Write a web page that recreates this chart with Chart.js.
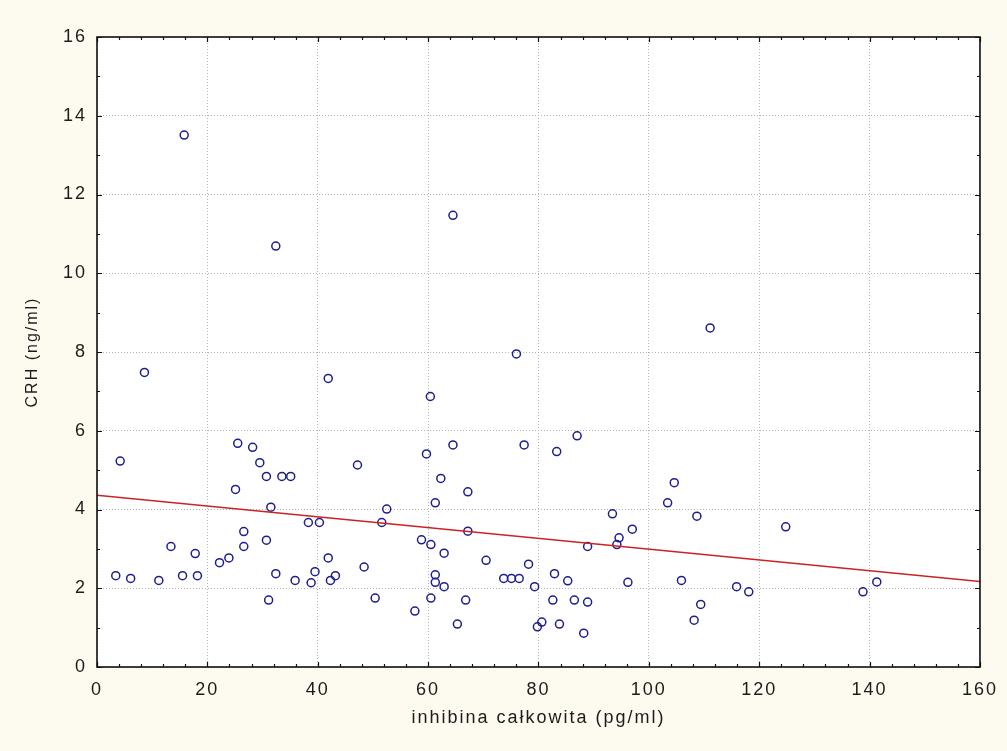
<!DOCTYPE html>
<html>
<head>
<meta charset="utf-8">
<script src="https://cdn.jsdelivr.net/npm/chart.js@4.4.1/dist/chart.umd.min.js"></script>
<style>
  html, body { margin: 0; padding: 0; background: #fdfaef; }
  canvas { display: block; }
</style>
</head>
<body>
<canvas id="chart" width="1007" height="751"></canvas>
<script>
// Inhibina całkowita (pg/ml) per subject
const inhibin = [
  15.8, 32.4, 8.6, 4.2, 3.4, 6.1, 11.2, 13.4, 15.5, 17.8,
  18.2, 22.2, 23.9, 25.1, 25.5, 28.2, 29.5, 30.7, 33.5, 35.1,
  31.5, 26.6, 26.6, 30.7, 31.1, 32.4, 35.9, 38.3, 40.3, 38.8,
  39.5, 41.9, 42.3, 43.2, 41.9, 47.2, 48.4, 50.4, 51.6, 52.5,
  59.7, 64.5, 62.3, 61.3, 67.2, 67.2, 58.8, 60.5, 62.9, 61.3,
  61.3, 62.9, 60.5, 57.6, 66.8, 65.3, 70.5, 73.7, 75.1, 76.5,
  78.2, 79.3, 79.8, 80.6, 77.4, 83.3, 87.0, 82.9, 85.3, 82.6,
  83.8, 86.5, 88.9, 88.2, 88.9, 93.4, 94.6, 94.2, 97.0, 96.2,
  104.6, 103.4, 108.7, 105.9, 109.4, 108.2, 124.8, 115.9, 118.1, 138.8,
  141.3, 64.5, 76.0, 60.4, 111.1
];
// CRH (ng/ml) for the same subjects
const crh = [
  13.51, 10.69, 7.48, 5.23, 2.32, 2.25, 2.20, 3.06, 2.32, 2.88,
  2.32, 2.65, 2.77, 4.51, 5.68, 5.58, 5.19, 4.84, 4.84, 4.84,
  4.06, 3.44, 3.06, 3.22, 1.70, 2.37, 2.20, 3.67, 3.67, 2.14,
  2.42, 2.77, 2.20, 2.32, 7.33, 5.13, 2.54, 1.75, 3.67, 4.01,
  5.41, 5.64, 4.79, 4.17, 4.45, 3.45, 3.23, 3.11, 2.89, 2.34,
  2.15, 2.04, 1.75, 1.42, 1.70, 1.09, 2.71, 2.25, 2.25, 2.25,
  2.61, 2.04, 1.02, 1.14, 5.64, 5.47, 5.87, 2.37, 2.19, 1.70,
  1.09, 1.70, 1.65, 0.86, 3.06, 3.89, 3.28, 3.11, 3.50, 2.15,
  4.68, 4.17, 3.83, 2.20, 1.59, 1.19, 3.56, 2.04, 1.91, 1.91,
  2.16, 11.47, 7.95, 6.87, 8.61
];
// Linear fit line end points
const fitX = [0, 160];
const fitY = [4.36, 2.17];

// Axis tick values
const xTickValues = [0, 20, 40, 60, 80, 100, 120, 140, 160];
const yTickValues = [0, 2, 4, 6, 8, 10, 12, 14, 16];

const PAGE_BG = '#fdfaef';
const TEXT = '#1c1c1c';
const FONT = "'Liberation Sans', Arial, sans-serif";

// Background, frame and inward minor/major tick marks
const framePlugin = {
  id: 'frame',
  beforeDraw(chart) {
    const { ctx, chartArea: a, width, height } = chart;
    ctx.save();
    ctx.fillStyle = PAGE_BG;
    ctx.fillRect(0, 0, width, height);
    ctx.fillStyle = '#ffffff';
    ctx.fillRect(a.left, a.top, a.right - a.left, a.bottom - a.top);
    ctx.restore();
    ctx.letterSpacing = '2px';
  },
  afterDraw(chart) {
    const { ctx, chartArea: a, scales: { x, y } } = chart;
    ctx.save();
    ctx.strokeStyle = '#111111';
    ctx.lineWidth = 1.2;
    ctx.beginPath();
    for (let v = 0; v <= 160; v += 4) {
      const px = Math.round(x.getPixelForValue(v)) + 0.5;
      const len = v % 20 === 0 ? 5 : 3;
      ctx.moveTo(px, a.bottom); ctx.lineTo(px, a.bottom - len);
      ctx.moveTo(px, a.top); ctx.lineTo(px, a.top + len);
    }
    for (let v = 0; v <= 16; v += 1) {
      const py = Math.round(y.getPixelForValue(v)) + 0.5;
      const len = v % 2 === 0 ? 5 : 3;
      ctx.moveTo(a.left, py); ctx.lineTo(a.left + len, py);
      ctx.moveTo(a.right, py); ctx.lineTo(a.right - len, py);
    }
    ctx.stroke();
    ctx.lineWidth = 1.6;
    ctx.strokeRect(a.left, a.top, a.right - a.left, a.bottom - a.top);
    ctx.restore();
  }
};

const points = inhibin.map((v, i) => ({ x: v, y: crh[i] }));
const fitLine = fitX.map((v, i) => ({ x: v, y: fitY[i] }));

new Chart(document.getElementById('chart'), {
  type: 'scatter',
  data: {
    datasets: [
      {
        type: 'line',
        data: fitLine,
        borderColor: '#cc2222',
        borderWidth: 1.5,
        pointRadius: 0,
        fill: false,
        order: 1
      },
      {
        data: points,
        pointStyle: 'circle',
        pointRadius: 4,
        pointBorderWidth: 1.5,
        borderColor: '#1e1e8c',
        backgroundColor: 'rgba(255,255,255,0)',
        order: 2
      }
    ]
  },
  options: {
    responsive: false,
    animation: false,
    events: [],
    layout: { padding: { left: 0, right: 27, top: 37, bottom: 0 } },
    plugins: {
      legend: { display: false },
      tooltip: { enabled: false }
    },
    scales: {
      x: {
        type: 'linear',
        min: 0,
        max: 160,
        afterBuildTicks: s => { s.ticks = xTickValues.map(v => ({ value: v })); },
        afterFit: s => { s.height = 84; },
        grid: { color: '#b4b4b4', lineWidth: 1, drawTicks: false },
        border: { display: false, dash: [1, 2] },
        ticks: {
          font: { family: FONT, size: 18 },
          color: TEXT,
          padding: 12,
          maxRotation: 0,
          autoSkip: false
        },
        title: {
          display: true,
          text: 'inhibina całkowita (pg/ml)',
          font: { family: FONT, size: 18 },
          color: TEXT,
          padding: { top: 0, bottom: 22 }
        }
      },
      y: {
        type: 'linear',
        min: 0,
        max: 16,
        afterBuildTicks: s => { s.ticks = yTickValues.map(v => ({ value: v })); },
        afterFit: s => { s.width = 97; },
        grid: { color: '#b4b4b4', lineWidth: 1, drawTicks: false },
        border: { display: false, dash: [1, 2] },
        ticks: {
          font: { family: FONT, size: 18 },
          color: TEXT,
          padding: 10,
          autoSkip: false
        },
        title: {
          display: true,
          text: 'CRH (ng/ml)',
          font: { family: FONT, size: 16 },
          color: TEXT,
          padding: { top: 23, bottom: 0 }
        }
      }
    }
  },
  plugins: [framePlugin]
});
</script>
</body>
</html>
